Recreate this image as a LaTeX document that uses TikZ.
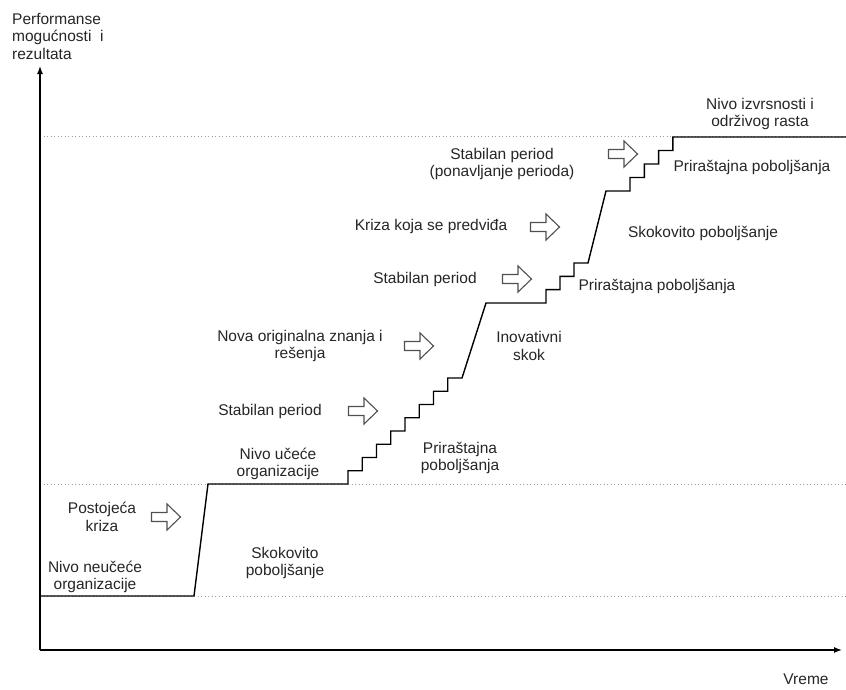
\documentclass[tikz,border=0pt]{standalone}
\usepackage{fontspec}
\setmainfont{Liberation Sans}
\usetikzlibrary{arrows.meta}
\definecolor{txt}{HTML}{262626}
\definecolor{arrgray}{HTML}{505050}
\definecolor{guidegray}{HTML}{A0A0A0}
\tikzset{
  pics/blockarrow/.style={code={
    \draw[barrow] (-14.5,-4.5) -- (1,-4.5) -- (1,-13) -- (14.5,0) -- (1,13) -- (1,4.5) -- (-14.5,4.5) -- cycle;}},
}
\begin{document}
\begin{tikzpicture}[x=1pt,y=-1pt,
  lbl/.style={font=\fontsize{15.5}{17.5}\selectfont, text=txt, inner sep=0pt, align=center},
  axisline/.style={line width=1.3pt, -{Latex[length=8pt,width=6pt]}},
  curveline/.style={line width=1.4pt, black, line join=miter},
  guide/.style={guidegray, line width=0.9pt, dash pattern=on 1pt off 2.5pt},
  barrow/.style={draw=arrgray, line width=1.1pt, fill=white},
]
\useasboundingbox (0,0) rectangle (846,689);
\fill[white] (0,0) rectangle (846,689);

% guide lines
\coordinate (g1a) at (40,136); \coordinate (g1b) at (846,136);
\coordinate (g2a) at (40,484); \coordinate (g2b) at (846,484);
\coordinate (g3a) at (40,596); \coordinate (g3b) at (846,596);
\draw[guide] (g1a) -- (g1b);
\draw[guide] (g2a) -- (g2b);
\draw[guide] (g3a) -- (g3b);

% axes
\coordinate (O) at (40,650);
\coordinate (Ytop) at (40,66);
\coordinate (Xend) at (842,650);
\draw[axisline] (O) -- (Ytop);
\draw[axisline] (O) -- (Xend);

% performance curve
\coordinate (c0) at (40,596);
\coordinate (c1) at (194,596);
\coordinate (c2) at (208,484);
\coordinate (c3) at (348,484);
\coordinate (c4) at (486,303);
\coordinate (c5) at (546,303);
\coordinate (c6) at (606,191);
\coordinate (c7) at (630,191);
\coordinate (c8) at (846,137);
\draw[curveline] (c0) -- (c1) -- (c2) -- (c3)
  \foreach \i in {1,...,8} { -- ++(0,-13.25) -- ++(14.25,0) }
  -- (c4) -- (c5)
  \foreach \i in {1,...,3} { -- ++(0,-13.33) -- ++(14,0) }
  -- (c6) -- (c7)
  -- ++(0,-13.5) -- ++(14.3,0) -- ++(0,-13.5) -- ++(14.3,0)
  -- ++(0,-13.5) -- ++(14.3,0) -- ++(0,-13.5) -- (c8);

% block arrows
\pic (a1) at (166,517) {blockarrow};
\pic (a2) at (363,411) {blockarrow};
\pic (a3) at (419,346) {blockarrow};
\pic (a4) at (517,279) {blockarrow};
\pic (a5) at (545,227) {blockarrow};
\pic (a6) at (623,154) {blockarrow};

% labels
\node[lbl, anchor=north west, align=left] (ylab) at (12,13) {Performanse\\mogućnosti\ \ i\\rezultata};
\node[lbl] (vreme) at (806,679) {Vreme};
\node[lbl] (t1) at (95,577) {Nivo neučeće\\organizacije};
\node[lbl] (t2) at (102,517) {Postojeća\\kriza};
\node[lbl] (t3) at (285,563) {Skokovito\\poboljšanje};
\node[lbl] (t4) at (278,464) {Nivo učeće\\organizacije};
\node[lbl] (t5) at (460,458) {Priraštajna\\poboljšanja};
\node[lbl] (t6) at (270,411) {Stabilan period};
\node[lbl] (t7) at (300,346) {Nova originalna znanja i\\rešenja};
\node[lbl] (t8) at (529,346) {Inovativni\\skok};
\node[lbl] (t9) at (425,279) {Stabilan period};
\node[lbl] (t10) at (657,286) {Priraštajna poboljšanja};
\node[lbl] (t11) at (703,233) {Skokovito poboljšanje};
\node[lbl] (t12) at (431,226) {Kriza koja se predviđa};
\node[lbl] (t13) at (502,164) {Stabilan period\\(ponavljanje perioda)};
\node[lbl] (t14) at (752,167) {Priraštajna poboljšanja};
\node[lbl] (t15) at (760,114) {Nivo izvrsnosti i\\održivog rasta};
\end{tikzpicture}
\end{document}
